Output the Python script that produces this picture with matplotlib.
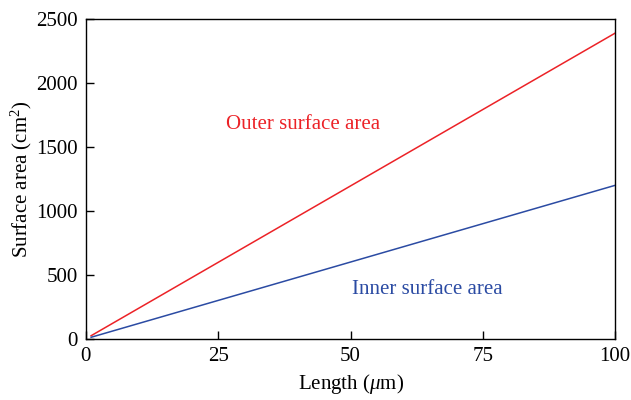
import matplotlib
matplotlib.use("Agg")
import matplotlib.pyplot as plt

plt.rcParams['font.family'] = ['Liberation Serif', 'DejaVu Serif']
plt.rcParams['mathtext.fontset'] = 'custom'
plt.rcParams['mathtext.rm'] = 'Liberation Serif'
plt.rcParams['mathtext.it'] = 'Liberation Serif:italic'

length = [1, 100]
outer = [24, 2390]
inner = [12, 1200]

fig = plt.figure(figsize=(6.31, 4.0), dpi=100)
ax = fig.add_axes([0.136, 0.153, 0.839, 0.7995])

red = '#ec2227'
blue = '#2b4ba3'
ax.plot(length, outer, color=red, lw=1.1)
ax.plot(length, inner, color=blue, lw=1.1)

ax.text(26.5, 1672, 'Outer surface area', color=red, fontsize=15, va='center')
ax.text(50.3, 389, 'Inner surface area', color=blue, fontsize=15, va='center')

ax.set_xlim(0, 100)
ax.set_ylim(0, 2500)
ax.set_xticks([0, 25, 50, 75, 100])
ax.set_yticks([0, 500, 1000, 1500, 2000, 2500])
ax.tick_params(direction='in', length=6, width=1, labelsize=15, pad=6)
for sp in ax.spines.values():
    sp.set_linewidth(1)
ax.set_xlabel(r'Length ($\mu$m)', fontsize=15, labelpad=4)
ax.set_ylabel(r'Surface area (cm$^2$)', fontsize=15, labelpad=1)

fig.savefig('out.png', dpi=100)
